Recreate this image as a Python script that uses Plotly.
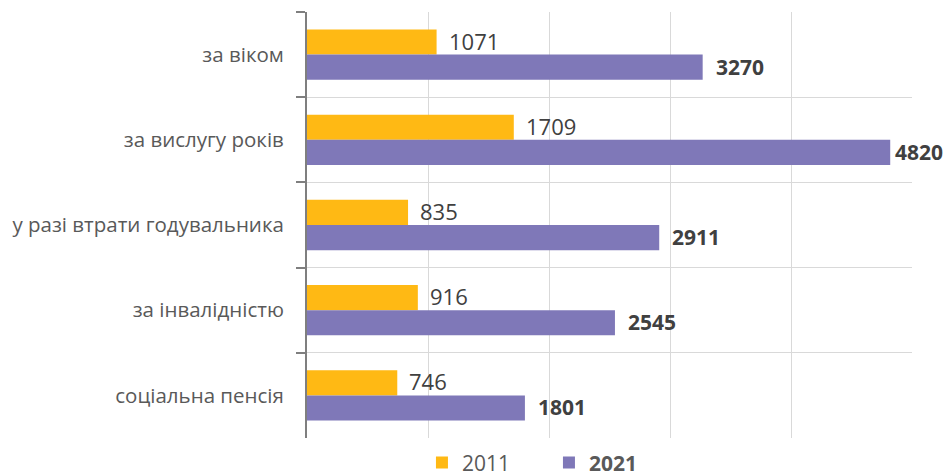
import plotly.graph_objects as go

categories = ["за віком", "за вислугу років", "у разі втрати годувальника", "за інвалідністю", "соціальна пенсія"]
values_2011 = [1071, 1709, 835, 916, 746]
values_2021 = [3270, 4820, 2911, 2545, 1801]
series_names = ["2011", "2021"]

C2011 = "#FFB914"
C2021 = "#7F78B8"
FONT = "Open Sans"
XMAX = 5000

# page body has an 8px default margin, so figure is sized to fit the 952x474 window
W, H = 944, 466

fig = go.Figure()
fig.add_trace(go.Bar(y=categories, x=values_2011, name=series_names[0], orientation="h",
                     marker=dict(color=C2011, line=dict(width=0))))
fig.add_trace(go.Bar(y=categories, x=values_2021, name="<b>" + series_names[1] + "</b>", orientation="h",
                     marker=dict(color=C2021, line=dict(width=0))))

annotations = []
for i, c in enumerate(categories):
    annotations.append(dict(x=values_2011[i], y=c, xref="x", yref="y", text=str(values_2011[i]),
                            showarrow=False, xanchor="left", yshift=14, xshift=10,
                            font=dict(size=22, color="#404040", family=FONT)))
    # labels near the right edge are nudged closer to the bar so they stay inside the page
    near_edge = values_2021[i] > 0.95 * XMAX
    annotations.append(dict(x=values_2021[i], y=c, xref="x", yref="y", text="<b>" + str(values_2021[i]) + "</b>",
                            showarrow=False, xanchor="left", yshift=-12, xshift=3 if near_edge else 11,
                            font=dict(size=21, color="#404040", family=FONT)))

fig.update_layout(
    width=W, height=H,
    margin=dict(l=299, r=40, t=4, b=0, autoexpand=False),
    paper_bgcolor="white", plot_bgcolor="white",
    barmode="group", bargap=0.41, bargroupgap=0,
    showlegend=True,
    legend=dict(orientation="h", x=0.19, xanchor="left", y=0.024, yanchor="middle",
                font=dict(size=21, color="#595959", family=FONT),
                itemwidth=30, entrywidth=82, traceorder="normal"),
    annotations=annotations,
    font=dict(family=FONT),
)
fig.update_xaxes(range=[0, XMAX], dtick=1000, showticklabels=False, showgrid=True,
                 gridcolor="#D9D9D9", gridwidth=1, zeroline=False, showline=False, ticks="",
                 automargin=False)
fig.update_yaxes(autorange="reversed", tickson="boundaries", ticks="outside", ticklen=9,
                 tickcolor="#7F7F7F", tickwidth=2, showline=True, linecolor="#7F7F7F", linewidth=2,
                 showgrid=True, gridcolor="#D9D9D9", gridwidth=1, automargin=False,
                 domain=[36 / 462, 1],
                 tickfont=dict(size=20.5, color="#595959", family=FONT), ticklabelstandoff=17)

fig.write_html("out.html")
